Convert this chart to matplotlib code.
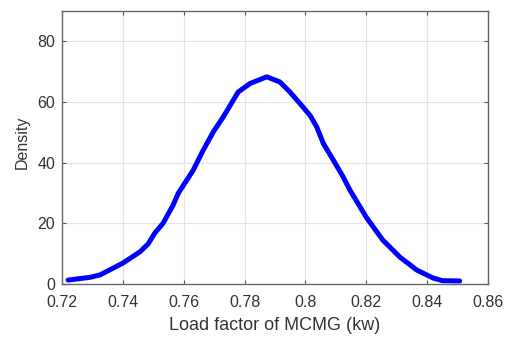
import numpy as np
import matplotlib
matplotlib.use("Agg")
import matplotlib.pyplot as plt

plt.rcParams['font.family'] = ['Liberation Sans', 'DejaVu Sans']

# kernel density estimate of the MCMG load factor
load_factor = [0.722, 0.7292, 0.7325, 0.740, 0.7456, 0.7483, 0.7505, 0.7532,
               0.7565, 0.7582, 0.7631, 0.7664, 0.7697, 0.773, 0.7763, 0.7779,
               0.7818, 0.7873, 0.7916, 0.7949, 0.7982, 0.8015, 0.8037, 0.8059,
               0.8092, 0.8124, 0.8146, 0.820, 0.8254, 0.831, 0.8366, 0.8419,
               0.845, 0.8507]
density = [1.3, 2.2, 3.0, 6.9, 10.6, 13.2, 16.8, 20.0,
           26.0, 29.9, 37.5, 44.1, 50.1, 55.1, 60.6, 63.3,
           66.1, 68.3, 66.6, 63.3, 59.5, 55.6, 51.8, 46.3,
           40.8, 35.3, 31.0, 22.0, 14.5, 8.9, 4.6, 2.0,
           1.1, 1.0]

xticks = [0.72, 0.74, 0.76, 0.78, 0.8, 0.82, 0.84, 0.86]
xticklabels = ['0.72', '0.74', '0.76', '0.78', '0.8', '0.82', '0.84', '0.86']
yticks = [0, 20, 40, 60, 80]

fig = plt.figure(figsize=(5.13, 3.37), dpi=100)
ax = fig.add_axes([62/513, 1 - 284/337, (488-62)/513, (284-11)/337])

ax.plot(load_factor, density, color='#0000ff', linewidth=3.6,
        solid_joinstyle='round', solid_capstyle='round')

ax.set_xlim(0.72, 0.86)
ax.set_ylim(0, 90)
ax.set_xticks(xticks)
ax.set_xticklabels(xticklabels)
ax.set_yticks(yticks)
ax.grid(True, color='#e3e3e3', linewidth=0.8)
ax.set_axisbelow(True)

txt = '#333333'
ax.tick_params(direction='in', length=3, width=0.8, colors='#555555',
               labelcolor=txt, labelsize=11.5, top=True, right=True,
               labeltop=False, labelright=False)
ax.tick_params(axis='x', pad=8)
ax.tick_params(axis='y', pad=5)
for s in ax.spines.values():
    s.set_color('#666666')
    s.set_linewidth(1.0)

ax.set_xlabel('Load factor of MCMG (kw)', fontsize=13, color=txt, labelpad=5)
ax.set_ylabel('Density', fontsize=11.5, color=txt)
ax.yaxis.set_label_coords(-0.075, 0.52)

fig.savefig('out.png', dpi=100)
